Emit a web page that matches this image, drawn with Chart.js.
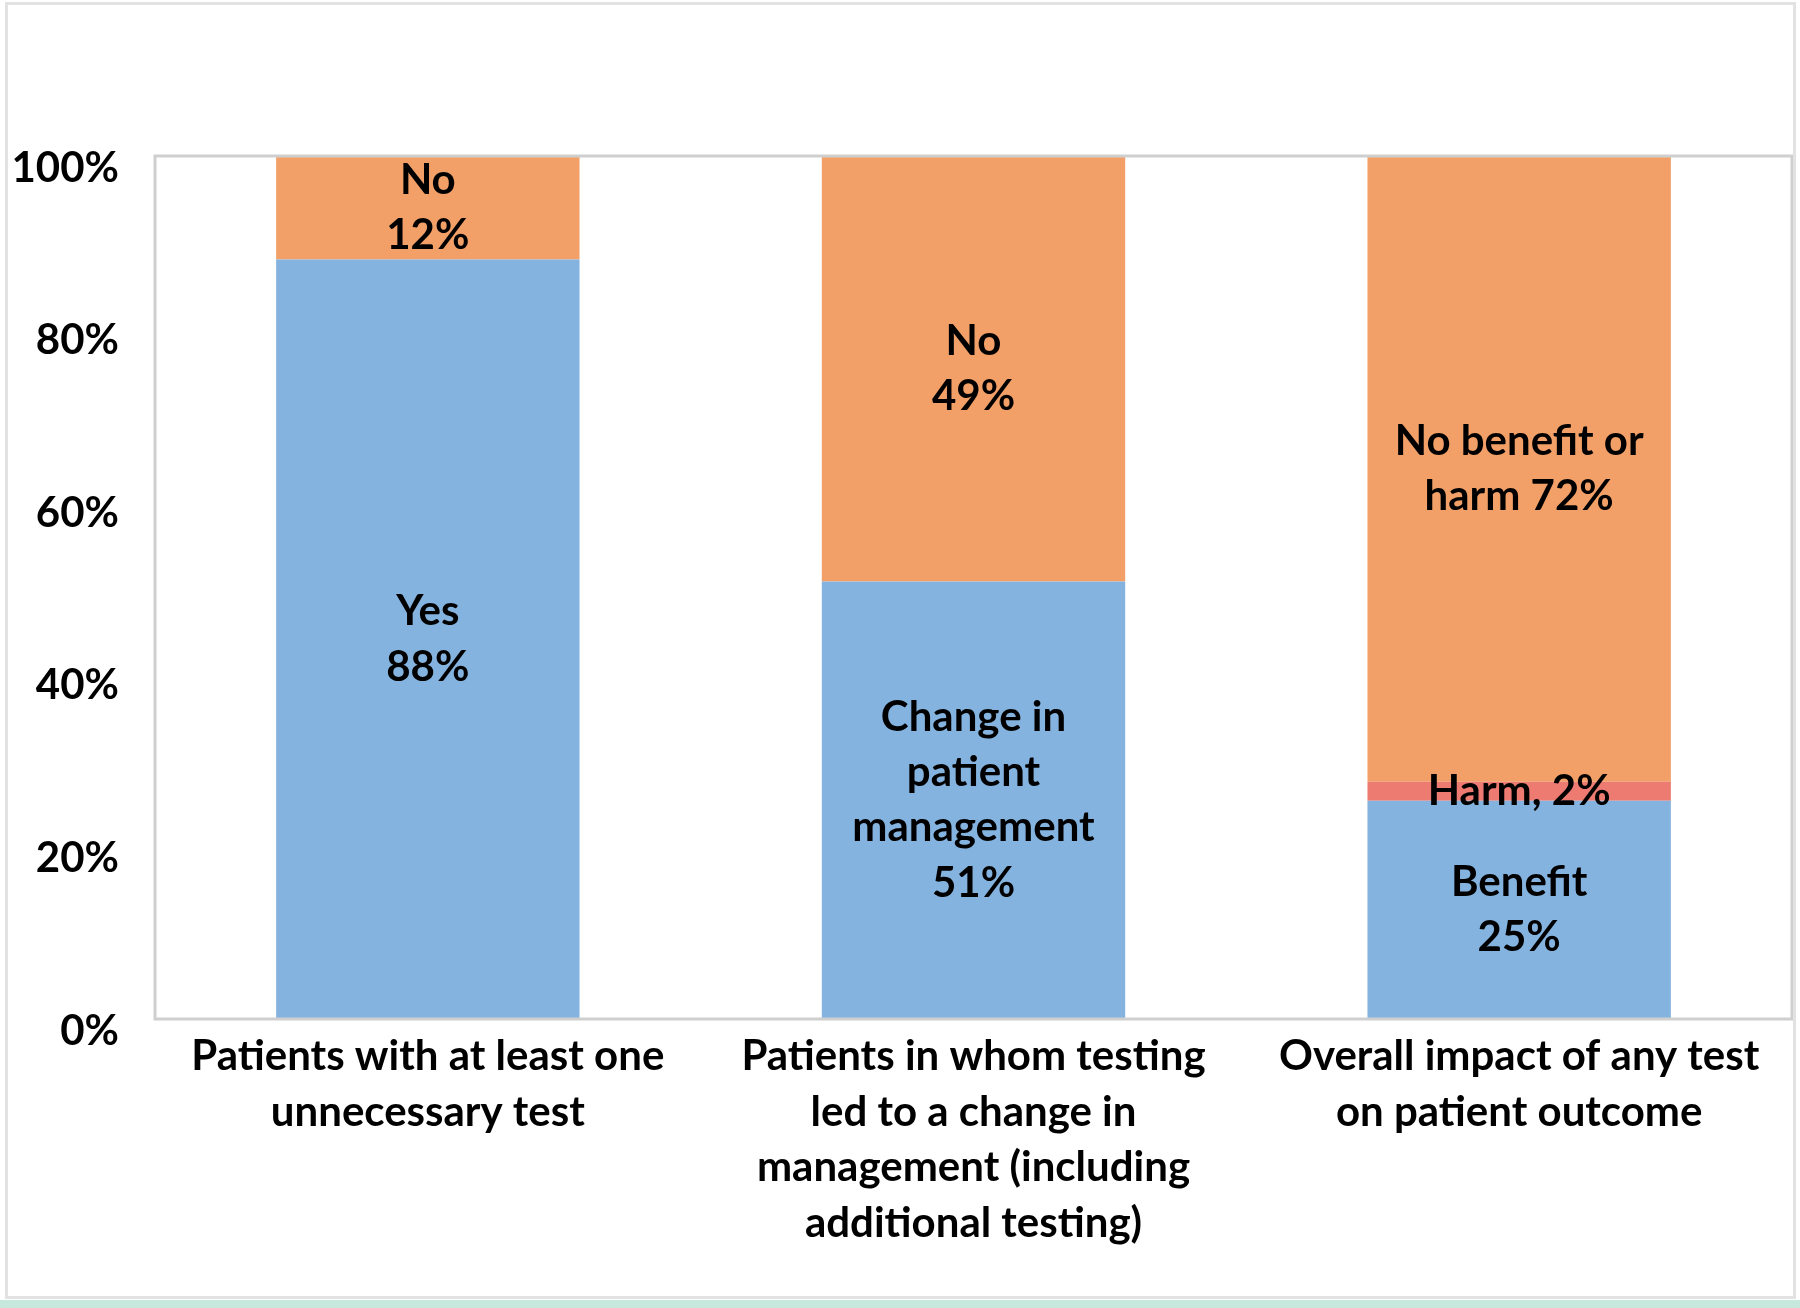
<!DOCTYPE html>
<html>
<head>
<meta charset="utf-8">
<script src="https://cdn.jsdelivr.net/npm/chart.js@4.4.1/dist/chart.umd.min.js"></script>
<style>
  html, body { margin: 0; padding: 0; background: #fff; }
  body { width: 1800px; height: 1308px; position: relative; overflow: hidden; }
  #chart { position: absolute; left: 0; top: 0; }
  .frame { position: absolute; left: 5px; top: 2px; width: 1785px; height: 1291px; border: 3px solid #e2e2e2; pointer-events: none; }
  .strip { position: absolute; left: 0; top: 1300px; width: 1800px; height: 8px; background: #c7e8dc; }
</style>
</head>
<body>
<canvas id="chart" width="1800" height="1308"></canvas>
<div class="frame"></div>
<div class="strip"></div>
<script>
// categories (multi-line axis labels)
const categories = [
  ["Patients with at least one", "unnecessary test"],
  ["Patients in whom testing", "led to a change in", "management (including", "additional testing)"],
  ["Overall impact of any test", "on patient outcome"],
];

// stacked segment values (%)
const positiveValues = [88, 50.7, 25.3]; // Yes / Change in management / Benefit
const harmValues = [0, 0, 2.2];
const negativeValues = [12, 49.3, 72.5]; // No / No / No benefit or harm

// text printed inside each segment
const positiveLabels = [["Yes", "88%"], ["Change in", "patient", "management", "51%"], ["Benefit", "25%"]];
const harmLabels = [null, null, ["Harm, 2%"]];
const negativeLabels = [["No", "12%"], ["No", "49%"], ["No benefit or", "harm 72%"]];

const yTicks = [0, 20, 40, 60, 80, 100];

const FONT = "Lato";
const labelFont = { family: FONT, size: 42, weight: "bold", lineHeight: 1.32 };

const segmentLabels = {
  id: "segmentLabels",
  afterDatasetsDraw(chart) {
    const ctx = chart.ctx;
    ctx.save();
    ctx.font = `bold ${labelFont.size}px ${FONT}`;
    ctx.fillStyle = "#000";
    ctx.textAlign = "center";
    ctx.textBaseline = "middle";
    const lh = labelFont.size * labelFont.lineHeight;
    chart.data.datasets.forEach((ds, di) => {
      const meta = chart.getDatasetMeta(di);
      meta.data.forEach((bar, i) => {
        const lines = ds.segLabels[i];
        if (!lines) return;
        const cy = (bar.y + bar.base) / 2;
        const y0 = cy - ((lines.length - 1) * lh) / 2;
        lines.forEach((t, k) => ctx.fillText(t, bar.x, y0 + k * lh));
      });
    });
    ctx.restore();
  },
};

const plotBox = {
  id: "plotBox",
  afterDatasetsDraw(chart) {
    const { ctx, chartArea: a } = chart;
    ctx.save();
    ctx.strokeStyle = "#cfcfcf";
    ctx.lineWidth = 3;
    ctx.strokeRect(a.left, a.top, a.right - a.left, a.bottom - a.top);
    ctx.restore();
  },
};

new Chart(document.getElementById("chart"), {
  type: "bar",
  data: {
    labels: categories,
    datasets: [
      { label: "Positive", data: positiveValues, backgroundColor: "#85b3df", segLabels: positiveLabels },
      { label: "Harm", data: harmValues, backgroundColor: "#ee7b72", segLabels: harmLabels },
      { label: "Negative", data: negativeValues, backgroundColor: "#f2a067", segLabels: negativeLabels },
    ],
  },
  options: {
    responsive: false,
    animation: false,
    devicePixelRatio: 1,
    layout: { padding: { left: 0, top: 156, right: 8, bottom: 0 } },
    datasets: { bar: { categoryPercentage: 1, barPercentage: 0.556, borderWidth: 0 } },
    plugins: { legend: { display: false }, tooltip: { enabled: false } },
    scales: {
      x: {
        stacked: true,
        grid: { display: false, drawTicks: false },
        border: { display: false },
        ticks: { color: "#000", font: labelFont, padding: 10, maxRotation: 0, autoSkip: false },
        afterFit: (s) => { s.height = 1308 - 1019; },
      },
      y: {
        stacked: true,
        min: 0,
        max: 100,
        grid: { display: false, drawTicks: false },
        border: { display: false },
        afterBuildTicks: (s) => { s.ticks = yTicks.map((v) => ({ value: v })); },
        ticks: { color: "#000", font: labelFont, padding: 36, labelOffset: 12, callback: (v) => v + "%" },
        afterFit: (s) => { s.width = 155; },
      },
    },
  },
  plugins: [segmentLabels, plotBox],
});
</script>
</body>
</html>
